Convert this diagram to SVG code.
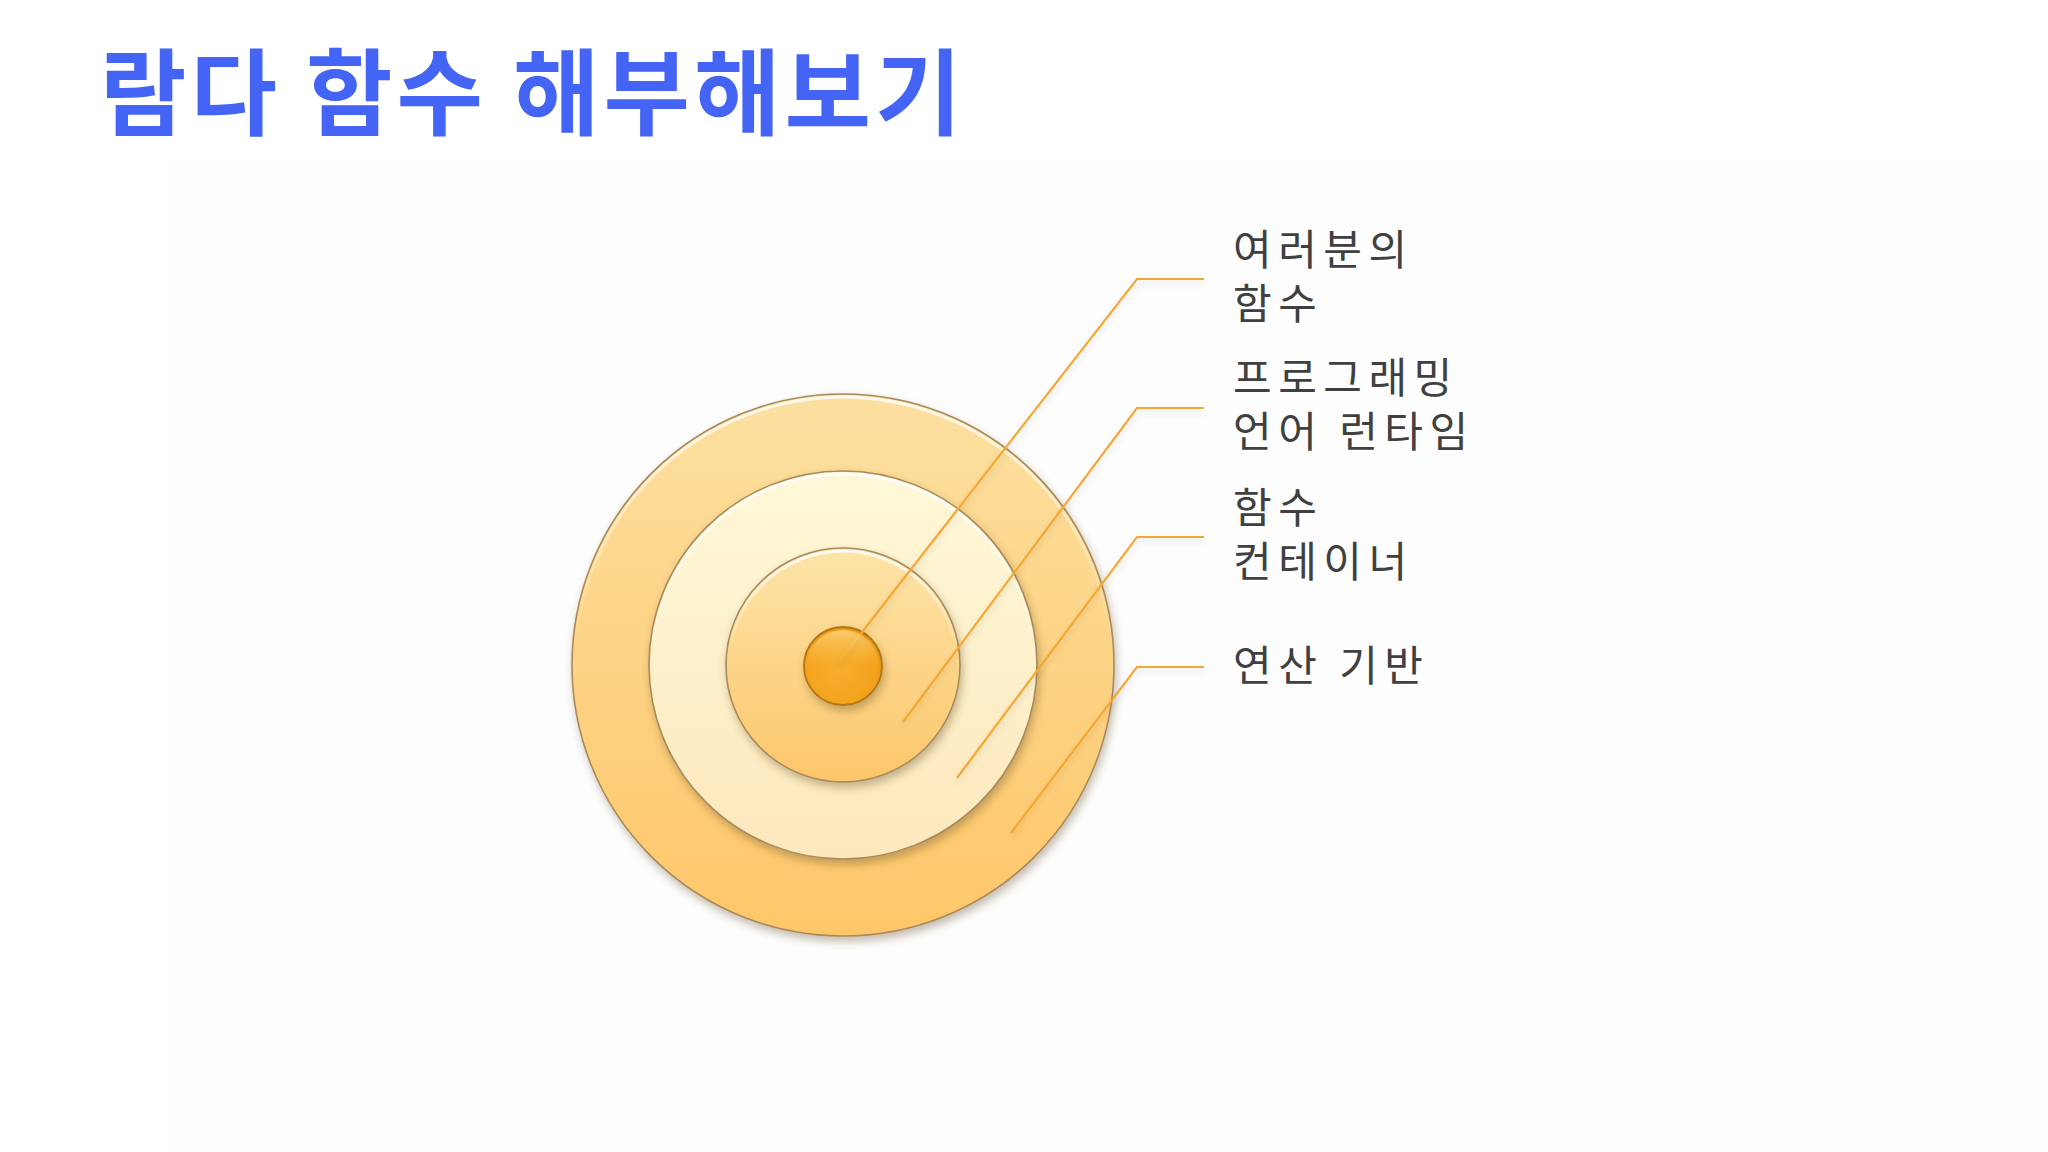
<svg xmlns="http://www.w3.org/2000/svg" width="2048" height="1152" viewBox="0 0 2048 1152">
  <defs>
    <style>
      .title { font-family: "Noto Sans CJK KR", "Noto Sans", sans-serif; font-weight: 700; font-size: 94px; fill: #4464F6; letter-spacing: 4px; }
      .label { font-family: "Noto Sans CJK KR", "Noto Sans", sans-serif; font-size: 42px; fill: #404040; letter-spacing: 6.5px; }
      .disc-edge { stroke: #A98A58; stroke-width: 1.6; }
      .lead { fill: none; stroke: #F5A733; stroke-width: 2.2; stroke-linejoin: miter; }
    </style>
    <linearGradient id="gOuter" x1="0" y1="0" x2="0" y2="1">
      <stop offset="0" stop-color="#FCE0A0"/>
      <stop offset="1" stop-color="#FEC669"/>
    </linearGradient>
    <linearGradient id="gRing2" x1="0" y1="0" x2="0" y2="1">
      <stop offset="0" stop-color="#FEF8D8"/>
      <stop offset="1" stop-color="#FCE8BD"/>
    </linearGradient>
    <linearGradient id="gRing3" x1="0" y1="0" x2="0" y2="1">
      <stop offset="0" stop-color="#FDE4A8"/>
      <stop offset="1" stop-color="#FCC66A"/>
    </linearGradient>
    <radialGradient id="gDot" cx="0.45" cy="0.55" r="0.6">
      <stop offset="0" stop-color="#F8AE2E"/>
      <stop offset="0.8" stop-color="#F3A21C"/>
      <stop offset="1" stop-color="#E0900E"/>
    </radialGradient>
    <linearGradient id="gBevel" x1="0" y1="0" x2="0" y2="1">
      <stop offset="0" stop-color="#FFFFFF" stop-opacity="0.85"/>
      <stop offset="0.45" stop-color="#FFFFFF" stop-opacity="0"/>
      <stop offset="1" stop-color="#FFFFFF" stop-opacity="0"/>
    </linearGradient>
    <linearGradient id="gDotHi" x1="0" y1="0" x2="0" y2="1">
      <stop offset="0" stop-color="#FFE29A" stop-opacity="0.9"/>
      <stop offset="0.5" stop-color="#FFD070" stop-opacity="0"/>
    </linearGradient>
    <filter id="fShadow" x="-20%" y="-20%" width="140%" height="140%">
      <feDropShadow dx="2" dy="5" stdDeviation="4" flood-color="#5A4020" flood-opacity="0.35"/>
    </filter>
    <filter id="fLineShadow" x="-10%" y="-20%" width="120%" height="140%">
      <feDropShadow dx="0" dy="4" stdDeviation="3" flood-color="#000000" flood-opacity="0.12"/>
    </filter>
  </defs>

  <rect x="0" y="0" width="2048" height="1152" fill="#FFFFFF"/>
  <rect x="175" y="160" width="1873" height="992" fill="#FDFDFE"/>

  <g id="title">
    <text class="title" y="128"><tspan x="100">람다</tspan><tspan x="306">함수</tspan><tspan x="513">해부해보기</tspan></text>
  </g>

  <g id="node-computing-base">
    <circle cx="843" cy="665" r="271" fill="url(#gOuter)" class="disc-edge" filter="url(#fShadow)"/>
    <circle cx="843" cy="665" r="268" fill="none" stroke="url(#gBevel)" stroke-width="3"/>
  </g>
  <g id="node-function-container">
    <circle cx="843" cy="665" r="194" fill="url(#gRing2)" class="disc-edge" filter="url(#fShadow)"/>
    <circle cx="843" cy="665" r="191" fill="none" stroke="url(#gBevel)" stroke-width="3"/>
  </g>
  <g id="node-language-runtime">
    <circle cx="843" cy="665" r="117" fill="url(#gRing3)" class="disc-edge" filter="url(#fShadow)"/>
    <circle cx="843" cy="665" r="114" fill="none" stroke="url(#gBevel)" stroke-width="3"/>
  </g>
  <g id="node-your-function">
    <circle cx="843" cy="666" r="39" fill="url(#gDot)" stroke="#B07617" stroke-width="1.8" filter="url(#fShadow)"/>
  </g>

  <g id="connectors" filter="url(#fLineShadow)">
    <path class="lead" d="M1204 279 H1137 L838 663"/>
    <path class="lead" d="M1204 408 H1137 L903 722"/>
    <path class="lead" d="M1204 537 H1137 L957 778"/>
    <path class="lead" d="M1204 667 H1137 L1011 833"/>
  </g>

  <g id="dot-gloss">
    <circle cx="843" cy="666" r="36" fill="url(#gDotHi)" opacity="0.7"/>
  </g>

  <g id="labels">
    <text class="label"><tspan x="1233" y="265">여러분의</tspan><tspan x="1233" y="319">함수</tspan></text>
    <text class="label"><tspan x="1233" y="393">프로그래밍</tspan><tspan x="1233" y="447">언어 런타임</tspan></text>
    <text class="label"><tspan x="1233" y="523">함수</tspan><tspan x="1233" y="577">컨테이너</tspan></text>
    <text class="label" x="1233" y="681">연산 기반</text>
  </g>
</svg>
